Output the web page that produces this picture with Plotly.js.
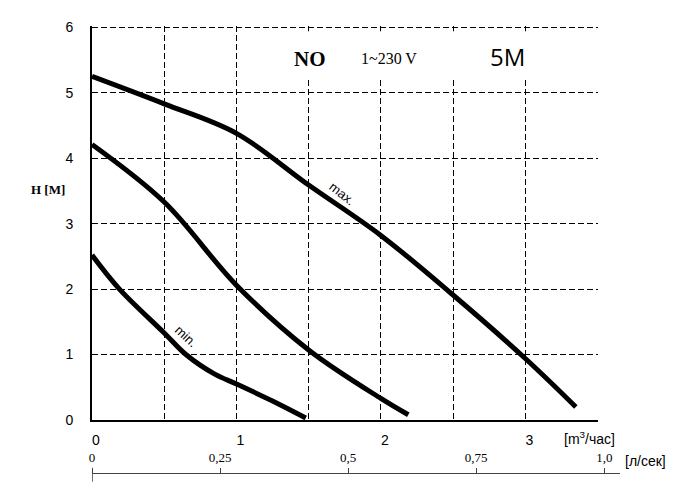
<!DOCTYPE html>
<html>
<head>
<meta charset="utf-8">
<script src="https://cdn.plot.ly/plotly-3.0.1.min.js"></script>
<style>
  body { margin: 0; background: #fff; }
  #chart { width: 687px; height: 503px; }
</style>
</head>
<body>
<div id="chart"></div>
<script>
// pump curves, flow in m3/h, head in m
var flowMax = [0, 0.5, 1.0, 1.5, 2.0, 2.5, 3.0, 3.35];
var headMax = [5.25, 4.83, 4.38, 3.59, 2.82, 1.91, 0.94, 0.2];

var flowMid = [0, 0.5, 1.0, 1.5, 2.0, 2.19];
var headMid = [4.21, 3.33, 2.06, 1.07, 0.33, 0.08];

var flowMin = [0, 0.19, 0.5, 0.65, 0.85, 1.0, 1.25, 1.48];
var headMin = [2.52, 2.0, 1.33, 1.0, 0.7, 0.55, 0.29, 0.03];

// second scale, l/s
var lpsTicks = [0, 0.25, 0.5, 0.75, 1.0];
var lpsLabels = ['0', '0,25', '0,5', '0,75', '1,0'];

var dashed = '6px,3px';

function curve(x, y) {
  return {
    x: x,
    y: y,
    type: 'scatter',
    mode: 'lines',
    line: { color: '#000', width: 5, shape: 'spline', smoothing: 1 },
    hoverinfo: 'skip',
    showlegend: false
  };
}

var traces = [
  curve(flowMax, headMax),
  curve(flowMid, headMid),
  curve(flowMin, headMin),
  {
    // holder for the l/s axis
    x: [0, 1],
    y: [null, null],
    xaxis: 'x2',
    yaxis: 'y2',
    mode: 'lines',
    hoverinfo: 'skip',
    showlegend: false
  }
];

var layout = {
  width: 687,
  height: 503,
  margin: { l: 92, r: 67, t: 26, b: 28 },
  paper_bgcolor: '#fff',
  plot_bgcolor: '#fff',
  showlegend: false,
  font: { family: 'Liberation Sans, Arial, sans-serif', color: '#000' },
  xaxis: {
    domain: [0, 0.9574],
    range: [0, 3.5],
    tick0: 0,
    dtick: 1,
    anchor: 'y',
    showgrid: true,
    gridcolor: '#000',
    gridwidth: 1,
    griddash: dashed,
    minor: { dtick: 0.5, showgrid: true, gridcolor: '#000', gridwidth: 1, griddash: dashed },
    showline: true,
    linecolor: '#000',
    linewidth: 2,
    zeroline: false,
    ticks: '',
    ticklabelshift: 4,
    ticklabelstandoff: 6,
    tickfont: { size: 14, color: '#000' }
  },
  yaxis: {
    domain: [0.1225, 1],
    range: [0, 6.02],
    tick0: 0,
    dtick: 1,
    anchor: 'x',
    showgrid: true,
    gridcolor: '#000',
    gridwidth: 1,
    griddash: dashed,
    showline: true,
    linecolor: '#000',
    linewidth: 2,
    zeroline: false,
    ticks: '',
    ticklabelstandoff: 14,
    tickfont: { size: 14, color: '#000' }
  },
  xaxis2: {
    domain: [0, 1],
    range: [0, 1.0306],
    anchor: 'y2',
    side: 'top',
    tickvals: lpsTicks,
    ticktext: lpsLabels,
    ticks: 'outside',
    ticklen: 5,
    tickwidth: 1,
    tickcolor: '#444',
    showline: true,
    linecolor: '#444',
    linewidth: 1.5,
    showgrid: false,
    zeroline: false,
    tickfont: { family: 'Liberation Serif, Times New Roman, serif', size: 13, color: '#000' }
  },
  yaxis2: {
    domain: [0, 0.002],
    range: [0, 1],
    anchor: 'x2',
    visible: false,
    showgrid: false
  },
  shapes: [
    {
      type: 'rect', xref: 'x', yref: 'y',
      x0: 1.03, x1: 3.45, y0: 5.2, y1: 5.94,
      fillcolor: '#fff', line: { width: 0 }, layer: 'above'
    },
    {
      type: 'line', xref: 'x2', yref: 'paper',
      x0: 0, x1: 0, y0: -0.015, y1: 0.016,
      line: { color: '#444', width: 1.5 }
    }
  ],
  annotations: [
    {
      text: '<b>NO</b>', x: 1.508, y: 5.52, xref: 'x', yref: 'y', showarrow: false,
      font: { family: 'Liberation Serif, Times New Roman, serif', size: 21 }
    },
    {
      text: '1~230 V', x: 2.057, y: 5.52, xref: 'x', yref: 'y', showarrow: false,
      font: { family: 'Liberation Serif, Times New Roman, serif', size: 16 }
    },
    {
      text: '5M', x: 2.88, y: 5.55, xref: 'x', yref: 'y', showarrow: false,
      font: { family: 'Open Sans, sans-serif', size: 24 }
    },
    {
      text: 'max.', x: 1.73, y: 3.46, xref: 'x', yref: 'y', showarrow: false,
      textangle: 38, font: { size: 13 }
    },
    {
      text: 'min.', x: 0.654, y: 1.28, xref: 'x', yref: 'y', showarrow: false,
      textangle: 43, font: { size: 13 }
    },
    {
      text: '<b>H [M]</b>', x: -0.0833, y: 0.636, xref: 'paper', yref: 'paper',
      xanchor: 'center', yanchor: 'middle', showarrow: false,
      font: { family: 'Liberation Serif, Times New Roman, serif', size: 13 }
    },
    {
      text: '[m<sup>3</sup>/час]', x: 3.447, y: 0.0826, xref: 'x', yref: 'paper',
      xanchor: 'center', yanchor: 'middle', showarrow: false,
      font: { size: 14 }
    },
    {
      text: '[л/сек]', x: 1.049, y: 0.0313, xref: 'paper', yref: 'paper',
      xanchor: 'center', yanchor: 'middle', showarrow: false,
      font: { size: 14 }
    }
  ]
};

Plotly.newPlot('chart', traces, layout, { displayModeBar: false, staticPlot: true });
</script>
</body>
</html>
